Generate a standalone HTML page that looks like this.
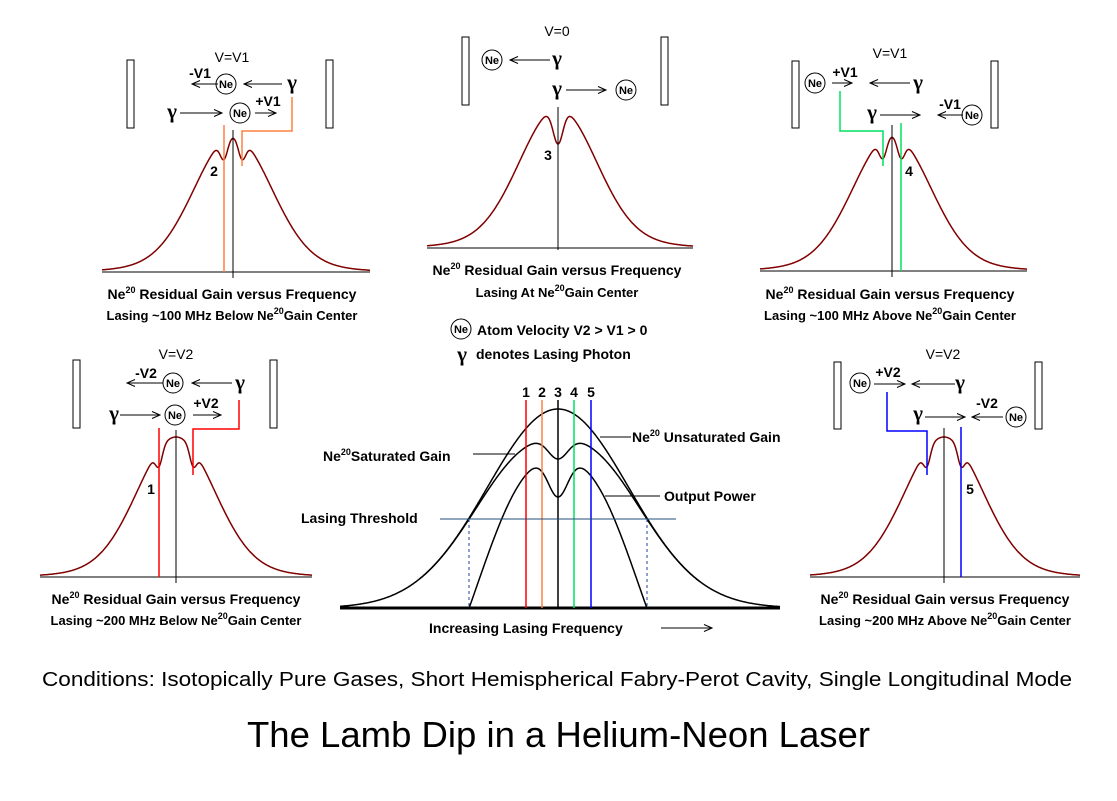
<!DOCTYPE html>
<html><head><meta charset="utf-8"><style>
html,body{margin:0;padding:0;background:#fff;}
svg{display:block;font-family:"Liberation Sans",Arial,sans-serif;}
.b{font-weight:bold;font-size:14px;}
.s{font-weight:bold;font-size:13px;}
.g{font-family:"Liberation Serif",serif;font-weight:bold;font-size:21px;}
.ne{font-weight:bold;font-size:11px;}
</style></head><body>
<svg id="s" width="1117" height="801" viewBox="0 0 1117 801" xmlns="http://www.w3.org/2000/svg">
<defs><marker id="ar" markerWidth="10" markerHeight="8" refX="9" refY="4" orient="auto" markerUnits="userSpaceOnUse"><path d="M1,0.5 L9,4 L1,7.5" fill="none" stroke="#000" stroke-width="1"/></marker></defs>
<g id="curves" fill="none" stroke="#800000" stroke-width="1.5"></g>
<g id="c2" fill="none" stroke="#000" stroke-width="1.5"></g>
<g stroke="#000" stroke-width="1" fill="none">
<rect x="127" y="60" width="7" height="68"/><rect x="326" y="60" width="7" height="68"/>
<rect x="462" y="37" width="7" height="68"/><rect x="661" y="37" width="7" height="68"/>
<rect x="792" y="61" width="7" height="67"/><rect x="991" y="61" width="7" height="67"/>
<rect x="73" y="360" width="7" height="68"/><rect x="270" y="360" width="7" height="68"/>
<rect x="834" y="362" width="7" height="67"/><rect x="1035" y="362" width="7" height="67"/>
<line x1="102" y1="272" x2="370" y2="272"/><line x1="427" y1="248" x2="693" y2="248"/>
<line x1="760" y1="271" x2="1027" y2="271"/><line x1="40" y1="577" x2="312" y2="577"/>
<line x1="810" y1="577" x2="1080" y2="577"/>
<line x1="340" y1="608" x2="780" y2="608" stroke-width="3"/>
<line x1="233" y1="130" x2="233" y2="278"/><line x1="558" y1="107" x2="558" y2="250"/>
<line x1="892" y1="125" x2="892" y2="277"/><line x1="176" y1="430" x2="176" y2="583"/>
<line x1="944" y1="428" x2="944" y2="583"/>
<line x1="218" y1="84" x2="192" y2="84" marker-end="url(#ar)"/>
<line x1="282" y1="84" x2="244" y2="84" marker-end="url(#ar)"/>
<line x1="180" y1="113" x2="222" y2="113" marker-end="url(#ar)"/>
<line x1="255" y1="113" x2="276" y2="113" marker-end="url(#ar)"/>
<line x1="550" y1="60" x2="510" y2="60" marker-end="url(#ar)"/>
<line x1="566" y1="90" x2="606" y2="90" marker-end="url(#ar)"/>
<line x1="832" y1="83" x2="852" y2="83" marker-end="url(#ar)"/>
<line x1="910" y1="83" x2="870" y2="83" marker-end="url(#ar)"/>
<line x1="880" y1="115" x2="920" y2="115" marker-end="url(#ar)"/>
<line x1="963" y1="115" x2="938" y2="115" marker-end="url(#ar)"/>
<line x1="163" y1="383" x2="127" y2="383" marker-end="url(#ar)"/>
<line x1="232" y1="383" x2="192" y2="383" marker-end="url(#ar)"/>
<line x1="120" y1="415" x2="160" y2="415" marker-end="url(#ar)"/>
<line x1="193" y1="415" x2="221" y2="415" marker-end="url(#ar)"/>
<line x1="874" y1="384" x2="905" y2="384" marker-end="url(#ar)"/>
<line x1="955" y1="384" x2="912" y2="384" marker-end="url(#ar)"/>
<line x1="925" y1="417" x2="965" y2="417" marker-end="url(#ar)"/>
<line x1="1003" y1="417" x2="972" y2="417" marker-end="url(#ar)"/>
<line x1="661" y1="628" x2="712" y2="628" marker-end="url(#ar)"/>
<circle cx="226" cy="84" r="10"/><circle cx="240" cy="113" r="10"/>
<circle cx="492" cy="60" r="10"/><circle cx="626" cy="90" r="10"/>
<circle cx="815" cy="83" r="10"/><circle cx="972" cy="115" r="10"/>
<circle cx="173" cy="383" r="10"/><circle cx="175" cy="415" r="10"/>
<circle cx="860" cy="383" r="10"/><circle cx="1016" cy="417" r="10"/>
<circle cx="461" cy="329" r="10"/>
<line x1="473" y1="454" x2="515" y2="454"/><line x1="600" y1="437" x2="631" y2="437"/>
<line x1="605" y1="496" x2="660" y2="496"/>
</g>
<g fill="none" stroke-width="1.5">
<polyline points="224,125 224,272" stroke="#ff8040"/>
<polyline points="242,166 242,131 292,131 292,97" stroke="#ff8040"/>
<polyline points="883,166 883,131 840,131 840,91" stroke="#00e060"/>
<polyline points="901,123 901,271" stroke="#00e060"/>
<polyline points="159,428 159,577" stroke="#ff0000"/>
<polyline points="193,475 193,429 239,429 239,400" stroke="#ff0000"/>
<polyline points="927,475 927,431 887,431 887,392" stroke="#0000ff"/>
<polyline points="961,427 961,577" stroke="#0000ff"/>
<line x1="526" y1="400" x2="526" y2="608" stroke="#ff0000"/>
<line x1="542" y1="400" x2="542" y2="608" stroke="#ff8040"/>
<line x1="558" y1="400" x2="558" y2="608" stroke="#000"/>
<line x1="574" y1="400" x2="574" y2="608" stroke="#00e060"/>
<line x1="591" y1="400" x2="591" y2="608" stroke="#0000ff"/>
<line x1="440" y1="519" x2="676" y2="519" stroke="#1f4e79" stroke-width="1"/>
<line x1="469" y1="519" x2="469" y2="608" stroke="#1f3f9f" stroke-width="1" stroke-dasharray="3,3"/>
<line x1="647" y1="519" x2="647" y2="608" stroke="#1f3f9f" stroke-width="1" stroke-dasharray="3,3"/>
</g>
<g fill="#000">
<text class="ne" x="226" y="88" text-anchor="middle">Ne</text><text class="ne" x="240" y="117" text-anchor="middle">Ne</text>
<text class="ne" x="492" y="64" text-anchor="middle">Ne</text><text class="ne" x="626" y="94" text-anchor="middle">Ne</text>
<text class="ne" x="815" y="87" text-anchor="middle">Ne</text><text class="ne" x="972" y="119" text-anchor="middle">Ne</text>
<text class="ne" x="173" y="387" text-anchor="middle">Ne</text><text class="ne" x="175" y="419" text-anchor="middle">Ne</text>
<text class="ne" x="860" y="387" text-anchor="middle">Ne</text><text class="ne" x="1016" y="421" text-anchor="middle">Ne</text>
<text class="ne" x="461" y="333" text-anchor="middle">Ne</text>

<text class="b" x="232" y="62" text-anchor="middle" style="font-weight:normal">V=V1</text>
<text class="b" x="200" y="78" text-anchor="middle">-V1</text><text class="b" x="268" y="106" text-anchor="middle">+V1</text>
<text class="g" x="292" y="89" text-anchor="middle">γ</text><text class="g" x="172" y="118" text-anchor="middle">γ</text>
<text class="b" x="557" y="36" text-anchor="middle" style="font-weight:normal">V=0</text>
<text class="g" x="557" y="65" text-anchor="middle">γ</text><text class="g" x="557" y="95" text-anchor="middle">γ</text>
<text class="b" x="890" y="58" text-anchor="middle" style="font-weight:normal">V=V1</text>
<text class="b" x="845" y="77" text-anchor="middle">+V1</text><text class="b" x="950" y="109" text-anchor="middle">-V1</text>
<text class="g" x="918" y="89" text-anchor="middle">γ</text><text class="g" x="872" y="119" text-anchor="middle">γ</text>
<text class="b" x="176" y="359" text-anchor="middle" style="font-weight:normal">V=V2</text>
<text class="b" x="146" y="378" text-anchor="middle">-V2</text><text class="b" x="206" y="408" text-anchor="middle">+V2</text>
<text class="g" x="240" y="389" text-anchor="middle">γ</text><text class="g" x="114" y="420" text-anchor="middle">γ</text>
<text class="b" x="943" y="359" text-anchor="middle" style="font-weight:normal">V=V2</text>
<text class="b" x="888" y="377" text-anchor="middle">+V2</text><text class="b" x="987" y="408" text-anchor="middle">-V2</text>
<text class="g" x="960" y="389" text-anchor="middle">γ</text><text class="g" x="918" y="420" text-anchor="middle">γ</text>

<text class="b" x="214" y="176" text-anchor="middle">2</text>
<text class="b" x="548" y="160" text-anchor="middle">3</text>
<text class="b" x="909" y="176" text-anchor="middle">4</text>
<text class="b" x="151" y="494" text-anchor="middle">1</text>
<text class="b" x="970" y="494" text-anchor="middle">5</text>

<text class="b" x="232" y="299" text-anchor="middle">Ne<tspan dy="-6" font-size="9">20</tspan><tspan dy="6"> Residual Gain versus Frequency</tspan></text>
<text class="s" x="232" y="320" text-anchor="middle">Lasing ~100 MHz Below Ne<tspan dy="-6" font-size="9">20</tspan><tspan dy="6">Gain Center</tspan></text>
<text class="b" x="557" y="275" text-anchor="middle">Ne<tspan dy="-6" font-size="9">20</tspan><tspan dy="6"> Residual Gain versus Frequency</tspan></text>
<text class="s" x="557" y="297" text-anchor="middle">Lasing At Ne<tspan dy="-6" font-size="9">20</tspan><tspan dy="6">Gain Center</tspan></text>
<text class="b" x="890" y="299" text-anchor="middle">Ne<tspan dy="-6" font-size="9">20</tspan><tspan dy="6"> Residual Gain versus Frequency</tspan></text>
<text class="s" x="890" y="320" text-anchor="middle">Lasing ~100 MHz Above Ne<tspan dy="-6" font-size="9">20</tspan><tspan dy="6">Gain Center</tspan></text>
<text class="b" x="176" y="604" text-anchor="middle">Ne<tspan dy="-6" font-size="9">20</tspan><tspan dy="6"> Residual Gain versus Frequency</tspan></text>
<text class="s" x="176" y="625" text-anchor="middle">Lasing ~200 MHz Below Ne<tspan dy="-6" font-size="9">20</tspan><tspan dy="6">Gain Center</tspan></text>
<text class="b" x="945" y="604" text-anchor="middle">Ne<tspan dy="-6" font-size="9">20</tspan><tspan dy="6"> Residual Gain versus Frequency</tspan></text>
<text class="s" x="945" y="625" text-anchor="middle">Lasing ~200 MHz Above Ne<tspan dy="-6" font-size="9">20</tspan><tspan dy="6">Gain Center</tspan></text>

<text class="b" x="477" y="335">Atom Velocity V2 &gt; V1 &gt; 0</text>
<text class="g" x="462" y="361" text-anchor="middle">γ</text>
<text class="b" x="476" y="359">denotes Lasing Photon</text>

<text class="b" x="526" y="397" text-anchor="middle">1</text><text class="b" x="542" y="397" text-anchor="middle">2</text>
<text class="b" x="558" y="397" text-anchor="middle">3</text><text class="b" x="574" y="397" text-anchor="middle">4</text>
<text class="b" x="591" y="397" text-anchor="middle">5</text>
<text class="b" x="323" y="461">Ne<tspan dy="-6" font-size="9">20</tspan><tspan dy="6">Saturated Gain</tspan></text>
<text class="b" x="632" y="442">Ne<tspan dy="-6" font-size="9">20</tspan><tspan dy="6"> Unsaturated Gain</tspan></text>
<text class="b" x="664" y="501">Output Power</text>
<text class="b" x="301" y="523">Lasing Threshold</text>
<text class="b" x="429" y="633">Increasing Lasing Frequency</text>

<text x="42" y="686" font-size="20" textLength="1030" lengthAdjust="spacingAndGlyphs">Conditions: Isotopically Pure Gases, Short Hemispherical Fabry-Perot Cavity, Single Longitudinal Mode</text>
<text x="247" y="747" font-size="36" textLength="623" lengthAdjust="spacingAndGlyphs">The Lamb Dip in a Helium-Neon Laser</text>
</g>
</svg>
<script>
(function(){
var NS="http://www.w3.org/2000/svg";
function path(g,d){var p=document.createElementNS(NS,"path");p.setAttribute("d",d);document.getElementById(g).appendChild(p);}
function panel(cx,ax,x0,x1,amp,sig,dips){
 var d="";
 for(var x=x0;x<=x1;x+=0.5){var t=x-cx;var v=amp*(0.93*Math.exp(-t*t/(2*sig*sig))+0.07*Math.exp(-t*t/(2*(sig*1.9)*(sig*1.9))));
  dips.forEach(function(q){var u=x-q[0];v-=q[1]*Math.exp(-u*u/(2*q[2]*q[2]));});
  d+=(d?"L":"M")+x.toFixed(1)+","+(ax-v).toFixed(1);}
 path("curves",d);
}
panel(233,272,102,370,136,38,[[224,20,3.8],[242,20,3.8]]);
panel(558,248,427,693,140,38,[[558,36,5]]);
panel(892,271,760,1027,136,38,[[883,20,3.8],[901,20,3.8]]);
panel(176,577,40,312,140,38,[[159,17,3.4],[193,17,3.4]]);
panel(944,577,810,1080,140,38,[[927,17,3.4],[961,17,3.4]]);
var cx=558,ax=608,sg=70.6;
function U(x){var t=x-cx;return 199*Math.exp(-t*t/(2*sg*sg));}
function S(x){var t=x-cx;return U(x)-28*Math.exp(-t*t/(2*35*35))-22*Math.exp(-t*t/(2*10*10));}
var d1="",d2="",d3="";
for(var x=340;x<=780;x+=0.5){d1+=(d1?"L":"M")+x+","+(ax-U(x)).toFixed(1);}
for(var x=420;x<=700;x+=0.5){d2+=(d2?"L":"M")+x+","+(ax-S(x)).toFixed(1);}
for(var x=469;x<=647;x+=0.5){var v=Math.max(0,(S(x)-89)*1.85);d3+=(d3?"L":"M")+x+","+(ax-v).toFixed(1);}
path("c2",d1);path("c2",d2);path("c2",d3);
})();
</script>
</body></html>
